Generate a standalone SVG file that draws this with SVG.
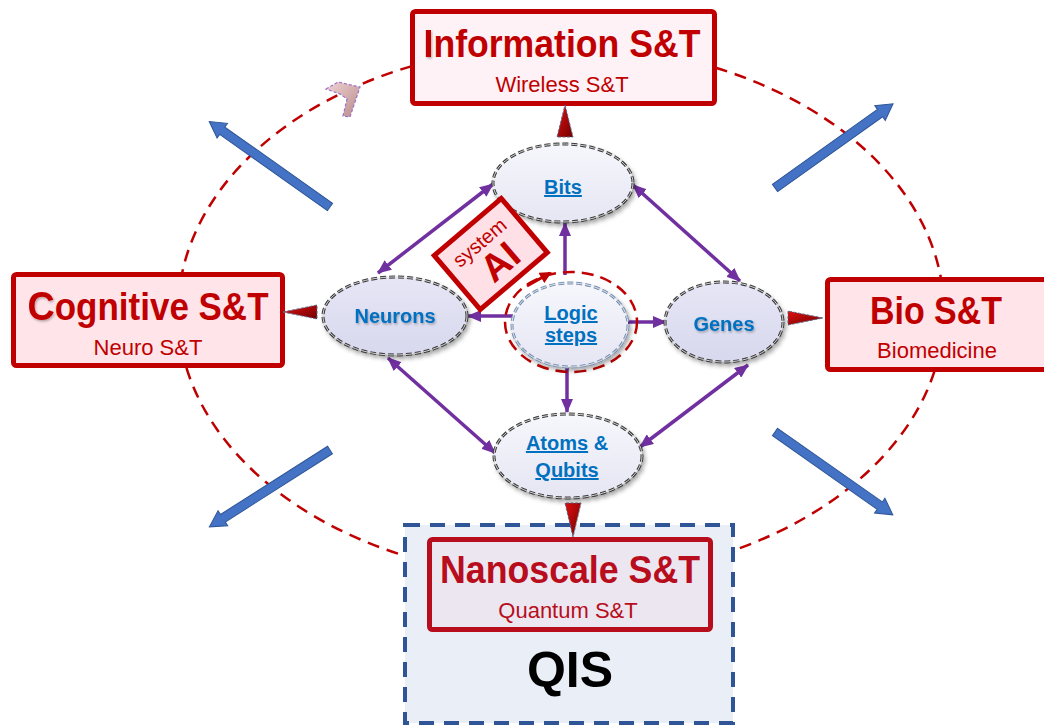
<svg xmlns="http://www.w3.org/2000/svg" width="1044" height="727" viewBox="0 0 1044 727">
  <style>
    .ring { fill: none; stroke: #c00000; stroke-width: 2.5; stroke-dasharray: 12 8; }
    .domain { stroke: #c00000; stroke-width: 5; }
    .title { font-family: "Liberation Sans", Arial, sans-serif; font-weight: bold; fill: #c00000; text-anchor: middle; }
    .sub { font-family: "Liberation Sans", Arial, sans-serif; font-size: 22px; fill: #c00000; text-anchor: middle; }
    .concept { stroke: #3a3a3a; stroke-width: 3; stroke-dasharray: 6 3; }
    .concept-in { fill: none; stroke: #e6e6e6; stroke-width: 0.9; stroke-dasharray: 6 3; }
    .lbl { font-family: "Liberation Sans", Arial, sans-serif; font-weight: bold; font-size: 20px; fill: #0070c0; text-anchor: middle; }
    .link { fill: none; stroke: #7030a0; stroke-width: 3.5; }
    .pointer { stroke: #5a6a8a; stroke-width: 1; stroke-dasharray: 3 1.5; }
    .trend { fill: #4472c4; stroke: #2f5597; stroke-width: 1; }
  </style>
  <defs>
    <marker id="ah" viewBox="0 0 14 12" refX="13" refY="6" markerWidth="14" markerHeight="12" markerUnits="userSpaceOnUse" orient="auto-start-reverse">
      <path d="M0,0 L14,6 L0,12 z" fill="#7030a0"/>
    </marker>
    <marker id="ahRed" viewBox="0 0 12 12" refX="10" refY="6" markerWidth="12" markerHeight="12" markerUnits="userSpaceOnUse" orient="auto">
      <path d="M0,0 L12,6 L0,12 z" fill="#c00000"/>
    </marker>
    <linearGradient id="gLight" x1="0" y1="0" x2="0" y2="1">
      <stop offset="0" stop-color="#f6f6fc"/>
      <stop offset="1" stop-color="#e6e6f4"/>
    </linearGradient>
    <linearGradient id="gMid" x1="0" y1="0" x2="0" y2="1">
      <stop offset="0" stop-color="#e6e6f6"/>
      <stop offset="1" stop-color="#d8d8ee"/>
    </linearGradient>
    <linearGradient id="gPtr" x1="0" y1="0" x2="1" y2="1">
      <stop offset="0" stop-color="#e01010"/>
      <stop offset="1" stop-color="#700000"/>
    </linearGradient>
    <linearGradient id="gChev" x1="0" y1="0" x2="1" y2="1">
      <stop offset="0" stop-color="#f0d4d4"/>
      <stop offset="1" stop-color="#b88a8a"/>
    </linearGradient>
    <filter id="shadow" x="-20%" y="-20%" width="150%" height="150%">
      <feDropShadow dx="2" dy="3" stdDeviation="2" flood-color="#000" flood-opacity="0.35"/>
    </filter>
    <filter id="txtShadow" x="-10%" y="-20%" width="130%" height="150%">
      <feDropShadow dx="1" dy="1.5" stdDeviation="0.8" flood-color="#000" flood-opacity="0.3"/>
    </filter>
  </defs>

  <rect x="0" y="0" width="1044" height="727" fill="#ffffff"/>

  <!-- outer ring joining the four domains -->
  <ellipse class="ring" cx="561" cy="312" rx="383" ry="267"/>

  <!-- QIS frame around the nanoscale domain -->
  <g id="qis">
    <rect x="405" y="525" width="328" height="198" fill="#eaeef7" stroke="#2f5597" stroke-width="4" stroke-dasharray="15 10"/>
    <text x="570" y="687" font-family="'Liberation Sans', Arial, sans-serif" font-weight="bold" font-size="50" fill="#000" text-anchor="middle">QIS</text>
  </g>

  <!-- blue trend arrows -->
  <g id="trend-arrows">
    <g transform="translate(330,207) rotate(-144.7)">
      <path class="trend" d="M0,-4.5 L132,-4.5 L132,-9 L148,0 L132,9 L132,4.5 L0,4.5 z"/>
    </g>
    <g transform="translate(775,188) rotate(-35.5)">
      <path class="trend" d="M0,-4.5 L129,-4.5 L129,-9 L145,0 L129,9 L129,4.5 L0,4.5 z"/>
    </g>
    <g transform="translate(330,450) rotate(147.5)">
      <path class="trend" d="M0,-4.5 L127,-4.5 L127,-9 L143,0 L127,9 L127,4.5 L0,4.5 z"/>
    </g>
    <g transform="translate(775,432) rotate(35.1)">
      <path class="trend" d="M0,-4.5 L128,-4.5 L128,-9 L144,0 L128,9 L128,4.5 L0,4.5 z"/>
    </g>
  </g>

  <!-- small chevron on the ring -->
  <polygon points="326,89 338,82 360,87 350,117 343,116 347,99 340,94" fill="url(#gChev)" stroke="#9a70c8" stroke-width="1.2" stroke-dasharray="3 2"/>

  <!-- domain boxes -->
  <g id="information">
    <rect class="domain" x="412.5" y="11.5" width="302" height="92" rx="3" fill="#fff2f6"/>
    <text class="title" x="562" y="57" font-size="38" textLength="277" lengthAdjust="spacingAndGlyphs"><tspan filter="url(#txtShadow)">I</tspan>nformation S&amp;T</text>
    <text class="sub" x="562" y="92">Wireless S&amp;T</text>
  </g>
  <g id="cognitive">
    <rect class="domain" x="13.5" y="274.5" width="269" height="91" rx="3" fill="#ffe4ea"/>
    <text class="title" x="148" y="320" font-size="38" textLength="241" lengthAdjust="spacingAndGlyphs"><tspan font-size="41" filter="url(#txtShadow)">C</tspan>ognitive S&amp;T</text>
    <text class="sub" x="148" y="355">Neuro S&amp;T</text>
  </g>
  <g id="bio">
    <rect class="domain" x="827.5" y="279.5" width="225" height="90" rx="3" fill="#ffe4ea"/>
    <text class="title" x="936" y="324" font-size="38" textLength="132" lengthAdjust="spacingAndGlyphs">Bio S&amp;T</text>
    <text class="sub" x="937" y="358">Biomedicine</text>
  </g>
  <g id="nanoscale">
    <rect x="429.5" y="539.5" width="281" height="90" rx="3" fill="#ece6f0" stroke="#b80d1c" stroke-width="5"/>
    <text class="title" x="570" y="583" font-size="38" style="fill:#b80d1c" textLength="260" lengthAdjust="spacingAndGlyphs">Nanoscale S&amp;T</text>
    <text class="sub" x="568" y="618" style="fill:#b80d1c">Quantum S&amp;T</text>
  </g>

  <!-- pointers from the concepts to their domains -->
  <g id="pointers">
    <polygon class="pointer" points="565,105 573,137 557,137" fill="url(#gPtr)"/>
    <polygon class="pointer" points="283,312 317,305 317,319" fill="url(#gPtr)"/>
    <polygon class="pointer" points="823,318 788,311 788,325" fill="url(#gPtr)"/>
    <polygon class="pointer" points="573,537 565,503 581,503" fill="url(#gPtr)"/>
  </g>

  <!-- connectors between the concepts -->
  <g id="connectors">
    <line class="link" x1="493" y1="184" x2="378" y2="273" marker-start="url(#ah)" marker-end="url(#ah)"/>
    <line class="link" x1="633" y1="185" x2="740" y2="281" marker-start="url(#ah)" marker-end="url(#ah)"/>
    <line class="link" x1="565" y1="275" x2="565" y2="223" marker-end="url(#ah)"/>
    <line class="link" x1="513" y1="316" x2="468" y2="316" marker-end="url(#ah)"/>
    <line class="link" x1="628" y1="322" x2="666" y2="322" marker-end="url(#ah)"/>
    <line class="link" x1="567" y1="368" x2="567" y2="412" marker-end="url(#ah)"/>
    <line class="link" x1="388" y1="358" x2="495" y2="453" marker-start="url(#ah)" marker-end="url(#ah)"/>
    <line class="link" x1="748" y1="365" x2="640" y2="447" marker-start="url(#ah)" marker-end="url(#ah)"/>
    <line x1="527" y1="286" x2="550" y2="273" stroke="#c00000" stroke-width="3" marker-end="url(#ahRed)"/>
  </g>

  <!-- concept ellipses -->
  <g id="bits">
    <ellipse class="concept" cx="563" cy="183" rx="70" ry="39" fill="url(#gLight)" filter="url(#shadow)"/>
    <ellipse class="concept-in" cx="563" cy="183" rx="70" ry="39"/>
    <text class="lbl" x="563" y="194" text-decoration="underline">Bits</text>
  </g>
  <g id="neurons">
    <ellipse class="concept" cx="395" cy="316" rx="72" ry="39" fill="url(#gMid)" filter="url(#shadow)"/>
    <ellipse class="concept-in" cx="395" cy="316" rx="72" ry="39"/>
    <text class="lbl" x="395" y="323" filter="url(#txtShadow)">Neurons</text>
  </g>
  <g id="genes">
    <ellipse class="concept" cx="724" cy="322" rx="59" ry="40" fill="url(#gMid)" filter="url(#shadow)"/>
    <ellipse class="concept-in" cx="724" cy="322" rx="59" ry="40"/>
    <text class="lbl" x="724" y="331" filter="url(#txtShadow)">Genes</text>
  </g>
  <g id="logic">
    <ellipse cx="571" cy="322" rx="66" ry="50" fill="none" stroke="#c00000" stroke-width="2.5" stroke-dasharray="12 7"/>
    <ellipse cx="570" cy="325" rx="58" ry="42" fill="url(#gLight)" stroke="#7a90b0" stroke-width="3" stroke-dasharray="6 3" filter="url(#shadow)"/>
    <ellipse cx="570" cy="325" rx="58" ry="42" fill="none" stroke="#e8eef6" stroke-width="0.9" stroke-dasharray="6 3"/>
    <text class="lbl" x="571" y="320" text-decoration="underline">Logic</text>
    <text class="lbl" x="571" y="342" text-decoration="underline">steps</text>
  </g>
  <g id="atoms">
    <ellipse class="concept" cx="568" cy="456" rx="74" ry="42" fill="url(#gLight)" filter="url(#shadow)"/>
    <ellipse class="concept-in" cx="568" cy="456" rx="74" ry="42"/>
    <text class="lbl" x="567" y="450"><tspan text-decoration="underline">Atoms</tspan> &amp;</text>
    <text class="lbl" x="567" y="477" text-decoration="underline">Qubits</text>
  </g>

  <!-- system AI tag -->
  <g id="system-ai" transform="translate(490.75,254) rotate(-40.4)">
    <rect x="-44" y="-35.5" width="88" height="71" fill="#ffe0e6" stroke="#c00000" stroke-width="5"/>
    <text x="-1" y="-9" font-family="'Liberation Sans', Arial, sans-serif" font-size="20" fill="#c00000" text-anchor="middle">system</text>
    <text x="2" y="25" font-family="'Liberation Sans', Arial, sans-serif" font-weight="bold" font-size="38" fill="#c00000" text-anchor="middle">AI</text>
  </g>
</svg>
